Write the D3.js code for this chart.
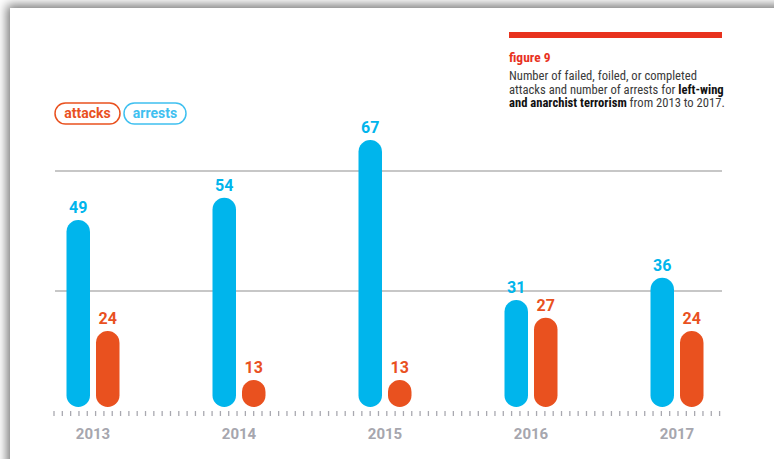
<!DOCTYPE html>
<html>
<head>
<meta charset="utf-8">
<script src="https://cdn.jsdelivr.net/npm/d3@7"></script>
<style>
  html, body { margin: 0; padding: 0; background: #fff; overflow: hidden; }
  #card {
    position: absolute; left: 10px; top: 8px; width: 800px; height: 480px;
    background: #fff; box-shadow: -3px -3px 10px rgba(0,0,0,0.55);
  }
  #chart { position: absolute; left: 0; top: 0; }
</style>
</head>
<body>
<div id="card"></div>
<div id="chart"></div>
<script>
"use strict";

// data
const years = ["2013", "2014", "2015", "2016", "2017"];
const arrests = [49, 54, 67, 31, 36];
const attacks = [24, 13, 13, 27, 24];
const gridValues = [33, 60];
const legendItems = ["attacks", "arrests"];
const titleLines = [
    [{ t: "Number of failed, foiled, or completed", b: false }],
    [{ t: "attacks and number of arrests for ", b: false }, { t: "left-wing", b: true }],
    [{ t: "and anarchist terrorism", b: true }, { t: " from 2013 to 2017.", b: false }]
];

const blue = "#00b5ec";
const orange = "#e9511f";
const red = "#e8321e";

function draw() {
    const width = 774, height = 459;
    const baseline = 407;

    let svg = d3.select("#chart").append("svg")
        .attr("width", width)
        .attr("height", height);

    // x: one band per year
    let x = d3.scaleBand().domain(years).range([20, 750]);
    let barW = 23.5, gap = 6;

    // y: bars grow up from the baseline, rounded caps included
    let y = d3.scaleLinear().domain([0, 60]).range([437.8, 171.1]);

    // gridlines
    svg.selectAll(".grid")
        .data(gridValues)
        .enter()
        .append("line")
        .attr("x1", 55).attr("x2", 722)
        .attr("y1", d => y(d)).attr("y2", d => y(d))
        .style("stroke", "#b4b4b4")
        .style("stroke-width", 1.5);

    // dotted baseline ticks
    let ticks = d3.range(54, 722, 8.32);
    svg.selectAll(".tick")
        .data(ticks)
        .enter()
        .append("line")
        .attr("x1", d => d).attr("x2", d => d)
        .attr("y1", 411).attr("y2", 416)
        .style("stroke", "#a9a9b0")
        .style("stroke-width", 1.3);

    let series = [
        { values: arrests, color: blue, dx: -gap / 2 - barW },
        { values: attacks, color: orange, dx: gap / 2 }
    ];

    series.forEach(s => {
        let pts = years.map((yr, i) => ({ yr: yr, v: s.values[i] }));
        let cx = d => x(d.yr) + x.bandwidth() / 2 + s.dx;

        svg.selectAll(null)
            .data(pts)
            .enter()
            .append("rect")
            .attr("x", cx)
            .attr("y", d => y(d.v))
            .attr("width", barW)
            .attr("height", d => baseline - y(d.v))
            .attr("rx", barW / 2)
            .attr("ry", barW / 2)
            .style("fill", s.color);

        svg.selectAll(null)
            .data(pts)
            .enter()
            .append("text")
            .attr("x", d => cx(d) + barW / 2)
            .attr("y", d => y(d.v) - 7)
            .attr("text-anchor", "middle")
            .style("font-family", "Roboto, sans-serif")
            .style("font-weight", "bold")
            .style("font-size", "16px")
            .style("fill", s.color)
            .text(d => d.v);
    });

    // year labels
    svg.selectAll(".year")
        .data(years)
        .enter()
        .append("text")
        .attr("x", d => x(d) + x.bandwidth() / 2)
        .attr("y", 439)
        .attr("text-anchor", "middle")
        .style("font-family", "Roboto, sans-serif")
        .style("font-weight", "bold")
        .style("font-size", "15px")
        .style("fill", "#a6a6ae")
        .text(d => d);

    // legend pills
    let pillX = [55, 124], pillW = [65, 62], pillC = [orange, "#3fc0f0"];
    let legend = svg.selectAll(".legend")
        .data(legendItems)
        .enter()
        .append("g")
        .attr("transform", (_d, i) => `translate(${pillX[i]},103)`);

    legend.append("rect")
        .attr("width", (_d, i) => pillW[i])
        .attr("height", 21)
        .attr("rx", 10.5)
        .style("fill", "#fff")
        .style("stroke", (_d, i) => pillC[i])
        .style("stroke-width", 1.5);

    legend.append("text")
        .attr("x", (_d, i) => pillW[i] / 2)
        .attr("y", 15)
        .attr("text-anchor", "middle")
        .style("font-family", "Roboto, sans-serif")
        .style("font-weight", "bold")
        .style("font-size", "14px")
        .style("fill", (_d, i) => pillC[i])
        .text(d => d);

    // title block
    svg.append("rect")
        .attr("x", 509).attr("y", 32)
        .attr("width", 213).attr("height", 6)
        .style("fill", red);

    svg.append("text")
        .attr("x", 509).attr("y", 62)
        .style("font-family", "'Roboto Condensed', 'Liberation Sans Narrow', Roboto, sans-serif")
        .style("font-weight", "bold")
        .style("font-size", "13.5px")
        .style("fill", red)
        .text("figure 9");

    titleLines.forEach((line, i) => {
        let t = svg.append("text")
            .attr("x", 509)
            .attr("y", 80 + i * 13.5)
            .style("font-family", "'Roboto Condensed', 'Liberation Sans Narrow', Roboto, sans-serif")
            .style("font-size", "12.6px")
            .style("fill", "#2b2b2b");
        line.forEach(p => {
            t.append("tspan")
                .style("font-weight", p.b ? "bold" : "normal")
                .style("fill", p.b ? "#111" : "#3a3a3a")
                .text(p.t);
        });
    });
}

draw();
</script>
</body>
</html>
